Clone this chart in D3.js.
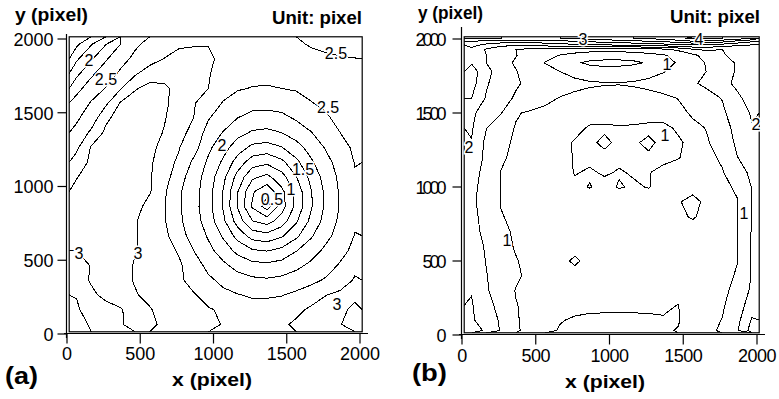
<!DOCTYPE html>
<html>
<head>
<meta charset="utf-8">
<script src="https://cdn.jsdelivr.net/npm/d3@7/dist/d3.min.js"></script>
<style>
  html, body { margin: 0; padding: 0; background: #fff; }
  svg { display: block; }
  text { font-family: "Liberation Sans", Arial, sans-serif; fill: #000; }
</style>
</head>
<body>
<svg id="chart" width="779" height="399"></svg>
<script>
// ---- data -------------------------------------------------------------
// Field samples. Rows run from the top of the image down, columns from left
// to right; positions of the samples are given in pixel units.
const colsA = [65,165,265,365,465,565,665,765,865,965,1065,1165,1265,1365,1465,1565,1665,1765,1865,1965];
const rowsA = [1965,1865,1765,1665,1565,1465,1365,1265,1165,1065,965,865,765,665,565,465,365,265,165,65];

const fieldA = [
  [1.45,1.73,1.99,2.25,2.47,2.55,2.6,2.72,2.73,2.74,2.7,2.67,2.65,2.62,2.6,2.55,2.47,2.42,2.38,2.36],
  [1.71,1.97,2.22,2.44,2.54,2.65,2.76,2.82,2.84,2.8,2.68,2.66,2.65,2.64,2.64,2.62,2.6,2.56,2.53,2.51],
  [1.94,2.2,2.4,2.53,2.72,2.88,2.9,2.88,2.85,2.77,2.63,2.59,2.57,2.57,2.57,2.6,2.63,2.65,2.67,2.69],
  [2.17,2.38,2.51,2.73,2.98,3.08,3.05,2.9,2.82,2.75,2.56,2.52,2.49,2.48,2.5,2.52,2.56,2.6,2.65,2.67],
  [2.35,2.52,2.7,3.02,3.1,3.12,3.05,2.88,2.77,2.6,2.49,2.39,2.34,2.33,2.35,2.41,2.49,2.54,2.6,2.65],
  [2.47,2.6,2.95,3.1,3.15,3.15,3.02,2.83,2.75,2.52,2.36,2.25,2.17,2.16,2.19,2.28,2.36,2.47,2.56,2.62],
  [2.55,2.8,3.05,3.12,3.15,3.12,2.98,2.8,2.7,2.39,2.24,2.08,1.97,1.94,2.0,2.11,2.24,2.36,2.5,2.58],
  [2.7,3.02,3.1,3.15,3.15,3.08,2.9,2.76,2.6,2.3,2.1,1.87,1.69,1.65,1.74,1.91,2.09,2.27,2.42,2.54],
  [2.85,3.05,3.12,3.15,3.15,3.05,2.82,2.72,2.45,2.21,1.96,1.64,1.37,1.3,1.44,1.69,1.96,2.17,2.35,2.51],
  [2.99,3.08,3.12,3.15,3.12,3.02,2.85,2.6,2.37,2.14,1.82,1.41,1.05,0.94,1.15,1.49,1.82,2.1,2.3,2.48],
  [3.05,3.1,3.15,3.15,3.12,3.02,2.78,2.53,2.35,2.1,1.74,1.26,0.78,0.57,0.93,1.35,1.73,2.05,2.28,2.45],
  [3.05,3.1,3.12,3.12,3.1,2.9,2.77,2.53,2.34,2.09,1.73,1.23,0.72,0.38,0.89,1.32,1.72,2.04,2.27,2.45],
  [3.05,3.08,3.1,3.12,3.02,2.88,2.77,2.54,2.37,2.13,1.81,1.39,1.01,0.9,1.12,1.47,1.81,2.09,2.3,2.47],
  [3.03,3.06,3.08,3.1,3.02,2.9,2.82,2.57,2.43,2.22,1.97,1.66,1.4,1.34,1.47,1.7,1.97,2.18,2.35,2.51],
  [3.0,3.04,3.08,3.12,3.01,2.92,2.86,2.72,2.5,2.32,2.14,1.93,1.78,1.74,1.82,1.99,2.14,2.3,2.44,2.55],
  [2.92,3.01,3.06,3.1,2.98,2.88,2.85,2.79,2.6,2.44,2.3,2.17,2.08,2.06,2.1,2.19,2.3,2.42,2.52,2.68],
  [2.9,3.02,3.1,3.08,2.98,2.9,2.86,2.82,2.61,2.54,2.45,2.35,2.3,2.28,2.31,2.37,2.45,2.52,2.59,2.78],
  [2.76,2.96,3.05,3.12,3.02,2.93,2.88,2.84,2.78,2.61,2.55,2.51,2.47,2.47,2.49,2.55,2.6,2.74,2.82,2.95],
  [2.72,2.85,2.93,2.98,3.1,3.02,2.9,2.86,2.82,2.78,2.7,2.62,2.6,2.6,2.6,2.68,2.8,2.88,2.95,3.05],
  [2.65,2.78,2.9,2.98,3.08,3.05,2.95,2.9,2.86,2.8,2.74,2.68,2.66,2.65,2.7,2.8,2.88,2.93,2.99,3.1]
];

const colsB = [65,165,265,365,465,565,665,765,865,965,1065,1165,1265,1365,1465,1565,1665,1765,1865,1965];
const rowsB = [2005,1985,1960,1930,1890,1840,1780,1700,1600,1500,1400,1300,1200,1100,1000,900,800,700,600,500,400,300,200,100,30];

const fieldB = [
  [3.6,3.5,3.5,3.4,3.4,3.4,3.5,3.6,3.7,3.8,3.9,4.0,4.1,4.2,4.4,4.6,4.6,4.5,4.3,4.0],
  [3.0,2.9,2.8,2.8,2.8,2.8,2.9,3.0,3.1,3.2,3.3,3.4,3.5,3.6,3.8,4.0,3.9,3.7,3.4,3.1],
  [2.7,2.35,2.15,2.05,2.1,2.2,2.3,2.4,2.45,2.5,2.55,2.6,2.7,2.8,2.9,3.0,2.95,2.8,2.6,2.5],
  [2.35,1.95,1.7,1.5,1.4,1.35,1.3,1.25,1.2,1.2,1.2,1.25,1.3,1.4,1.6,1.95,2.1,2.0,2.05,2.2],
  [2.45,2.0,1.75,1.52,1.3,1.15,0.98,0.85,0.75,0.7,0.7,0.75,0.85,0.95,1.15,1.4,1.7,1.95,2.15,2.3],
  [2.45,2.0,1.65,1.45,1.25,0.98,0.8,0.55,0.42,0.38,0.38,0.42,0.55,0.8,1.05,1.3,1.55,1.8,2.05,2.3],
  [2.75,2.15,1.75,1.52,1.3,1.15,1.0,0.85,0.72,0.66,0.68,0.75,0.86,0.98,1.12,1.32,1.52,1.78,2.05,2.3],
  [2.7,2.05,1.75,1.55,1.4,1.3,1.2,1.12,1.06,1.03,1.02,1.05,1.1,1.18,1.3,1.45,1.6,1.85,2.1,2.35],
  [2.5,1.95,1.65,1.45,1.25,1.1,0.98,0.9,0.85,0.82,0.82,0.83,0.87,0.92,1.01,1.15,1.35,1.52,1.9,2.2],
  [2.1,1.75,1.52,1.03,0.95,0.9,0.86,0.82,0.78,0.76,0.76,0.78,0.8,0.85,0.9,1.05,1.12,1.42,1.75,2.05],
  [2.05,1.52,1.15,0.98,0.88,0.83,0.8,0.85,1.05,1.08,1.04,1.06,1.1,1.08,0.95,0.92,1.02,1.3,1.65,1.97],
  [1.98,1.38,1.12,0.93,0.85,0.8,0.85,1.05,1.1,0.9,1.1,1.05,0.92,1.1,1.05,0.9,0.98,1.15,1.6,1.9],
  [1.8,1.4,1.05,0.92,0.83,0.78,0.8,1.04,1.1,1.12,1.08,1.05,1.06,1.1,1.02,0.88,0.92,1.05,1.48,1.8],
  [1.65,1.38,0.99,0.9,0.82,0.77,0.76,1.03,0.95,1.05,0.97,1.04,1.02,0.9,0.85,0.82,0.88,0.98,1.2,1.65],
  [1.6,1.35,0.98,0.9,0.81,0.76,0.74,0.9,1.02,0.88,1.03,0.95,1.02,0.85,0.8,0.8,0.85,0.92,1.05,1.52],
  [1.58,1.32,0.98,0.9,0.8,0.75,0.73,0.72,0.74,0.73,0.75,0.74,0.76,0.76,0.95,1.18,0.84,0.9,0.98,1.52],
  [1.62,1.35,1.02,0.92,0.8,0.75,0.72,0.71,0.72,0.72,0.73,0.73,0.74,0.75,0.9,1.05,0.84,0.88,0.97,1.52],
  [1.65,1.38,1.08,0.95,0.82,0.75,0.72,0.7,0.71,0.71,0.72,0.72,0.73,0.74,0.76,0.79,0.83,0.87,0.97,1.53],
  [1.72,1.45,1.12,0.97,0.84,0.76,0.72,0.7,0.7,0.7,0.71,0.71,0.72,0.73,0.75,0.78,0.82,0.87,0.98,1.55],
  [1.78,1.48,1.2,1.02,0.9,0.78,0.73,1.15,0.7,0.7,0.7,0.7,0.71,0.72,0.74,0.77,0.81,0.88,0.99,1.55],
  [1.85,1.52,1.25,1.08,0.88,0.78,0.72,0.69,0.68,0.68,0.68,0.68,0.69,0.7,0.72,0.76,0.8,0.9,1.03,1.53],
  [1.97,1.55,1.25,0.98,0.86,0.76,0.7,0.66,0.64,0.63,0.63,0.63,0.64,0.66,0.69,0.74,0.8,0.92,1.1,1.6],
  [2.05,1.58,1.42,1.02,0.88,0.74,0.66,0.6,0.56,0.55,0.55,0.55,0.56,0.58,0.49,0.72,0.85,0.95,1.25,1.75],
  [2.08,1.7,1.45,1.03,0.9,0.7,0.52,0.46,0.45,0.45,0.45,0.45,0.45,0.46,0.47,0.7,0.9,1.01,1.35,2.05],
  [2.3,1.9,1.45,1.05,0.88,0.6,0.47,0.43,0.42,0.42,0.42,0.42,0.43,0.45,0.52,0.72,0.93,1.05,1.45,2.2]
];

const levelsA = [0.5,0.75,1,1.25,1.5,1.75,2,2.25,2.5,2.75,3,3.25];
const levelsB = [0.5,1,1.5,2,2.5,3,3.5,4,4.5,5];

// inline contour labels: [x, y, text]
const labelsA = [
  [150,1858,"2"],[266,1729,"2.5"],[1836,1905,"2.5"],[1782,1539,"2.5"],
  [1058,1281,"2"],[1611,1119,"1.5"],[1529,983,"1"],[1399,915,"0.5"],
  [82,549,"3"],[485,549,"3"],[1843,203,"3"]
];
const labelsB = [
  [820,2000,"3"],[1607,2000,"4"],[1390,1831,"1"],[1993,1426,"2"],
  [47,1270,"2"],[1376,1351,"1"],[1912,824,"1"],[305,642,"1"]
];

const tickValues = [0,500,1000,1500,2000];
const axisDomain = [0, 2000];
const frameExtent = [15, 2015];

// ---- helpers ----------------------------------------------------------
// Iso-lines of a sampled field. d3.contours closes every ring along the
// grid border; the border runs are removed so that only the lines remain.
function isolines(field, levels) {
  const n = field[0].length, m = field.length, eps = 1e-9;
  const onEdge = p => p[0] <= eps || p[0] >= n - eps || p[1] <= eps || p[1] >= m - eps;
  const out = [];
  d3.contours().size([n, m]).thresholds(levels)(field.flat()).forEach(c => {
    c.coordinates.forEach(poly => poly.forEach(ring => {
      const pts = ring.slice(0, -1), N = pts.length;
      let start = -1;
      for (let i = 0; i < N; i++) {
        if (onEdge(pts[i]) && onEdge(pts[(i + 1) % N])) { start = (i + 1) % N; break; }
      }
      if (start < 0) { out.push({value: c.value, points: ring}); return; }
      let cur = null;
      for (let s = 0; s < N; s++) {
        const a = pts[(start + s) % N], b = pts[(start + s + 1) % N];
        if (onEdge(a) && onEdge(b)) {
          if (cur) out.push({value: c.value, points: cur});
          cur = null;
          continue;
        }
        if (!cur) cur = [a];
        cur.push(b);
      }
      if (cur) out.push({value: c.value, points: cur});
    }));
  });
  return out;
}

// grid index space -> data space, sample k sits at index k + 0.5
function gridScale(samples, edge0, edge1) {
  const dom = [0], rng = [edge0];
  samples.forEach((s, k) => { dom.push(k + 0.5); rng.push(s); });
  dom.push(samples.length); rng.push(edge1);
  return d3.scaleLinear().domain(dom).range(rng);
}

// ---- layout -----------------------------------------------------------
const svg = d3.select("#chart");

const panels = [
  {
    field: fieldA, cols: colsA, rows: rowsA, levels: levelsA, labels: labelsA, tag: "(a)",
    x: d3.scaleLinear().domain(axisDomain).range([67, 360]),
    y: d3.scaleLinear().domain(axisDomain).range([334, 39]),
    yAxisTop: 34, yTickLen: 9, yLabelGap: 4, condensed: false,
    yTitle: {x: 15, y: 21, len: 73}, unit: {x: 272, y: 24, len: 90},
    tagPos: {x: 5, y: 384, len: 33}, xTitle: {x: 212, y: 386, len: 80},
    xLabelY: 360
  },
  {
    field: fieldB, cols: colsB, rows: rowsB, levels: levelsB, labels: labelsB, tag: "(b)",
    x: d3.scaleLinear().domain(axisDomain).range([462, 757]),
    y: d3.scaleLinear().domain(axisDomain).range([335, 39]),
    yAxisTop: 27, yTickLen: 9, yLabelGap: 9, condensed: true,
    yTitle: {x: 418, y: 19, len: 65}, unit: {x: 670, y: 23, len: 90},
    tagPos: {x: 412, y: 381, len: 35}, xTitle: {x: 605, y: 388, len: 80},
    xLabelY: 362
  }
];

panels.forEach((p, idx) => {
  const g = svg.append("g");
  const gx = gridScale(p.cols, frameExtent[0], frameExtent[1]);
  const gy = gridScale(p.rows, frameExtent[1], frameExtent[0]);

  const line = d3.line()
    .x(pt => p.x(gx(pt[0])))
    .y(pt => p.y(gy(pt[1])));

  const fx0 = p.x(frameExtent[0]), fx1 = p.x(frameExtent[1]);
  const fy0 = p.y(frameExtent[1]), fy1 = p.y(frameExtent[0]);

  const clipId = "clip" + idx;
  svg.append("clipPath").attr("id", clipId)
    .append("rect").attr("x", fx0).attr("y", fy0)
    .attr("width", fx1 - fx0).attr("height", fy1 - fy0);

  g.append("g").attr("clip-path", `url(#${clipId})`)
    .selectAll("path").data(isolines(p.field, p.levels)).join("path")
    .attr("d", d => line(d.points))
    .attr("fill", "none")
    .attr("stroke", "#000")
    .attr("stroke-width", 1)
    .attr("shape-rendering", "crispEdges");

  // plot frame
  g.append("rect")
    .attr("x", fx0).attr("y", fy0)
    .attr("width", fx1 - fx0).attr("height", fy1 - fy0)
    .attr("fill", "none").attr("stroke", "#000").attr("stroke-width", 1.2);

  // contour labels with a white halo that breaks the line
  g.append("g").selectAll("text").data(p.labels).join("text")
    .attr("x", d => p.x(d[0])).attr("y", d => p.y(d[1]))
    .attr("text-anchor", "middle").attr("dy", "0.36em")
    .attr("font-size", 16)
    .attr("stroke", "#fff").attr("stroke-width", 3).attr("paint-order", "stroke")
    .text(d => d[2]);

  // y axis
  const yAxisX = p.x(0) - 0.5;
  g.append("line").attr("x1", yAxisX).attr("x2", yAxisX)
    .attr("y1", p.yAxisTop).attr("y2", p.y(0) + 4)
    .attr("stroke", "#000").attr("stroke-width", 1.2);
  const yt = g.append("g").selectAll("g").data(tickValues).join("g");
  yt.append("line")
    .attr("x1", yAxisX - p.yTickLen).attr("x2", yAxisX)
    .attr("y1", d => p.y(d)).attr("y2", d => p.y(d))
    .attr("stroke", "#000").attr("stroke-width", 1.2);
  yt.append("text")
    .attr("x", yAxisX - p.yTickLen - p.yLabelGap)
    .attr("y", d => p.y(d)).attr("dy", "0.38em")
    .attr("text-anchor", "end").attr("font-size", 18)
    .attr("letter-spacing", p.condensed ? -3 : 0)
    .text(d => d);

  // x axis
  const xAxisY = p.y(0) - 0.5;
  g.append("line").attr("x1", p.x(0) - 3).attr("x2", p.x(2000) + 8)
    .attr("y1", xAxisY).attr("y2", xAxisY)
    .attr("stroke", "#000").attr("stroke-width", 1.2);
  const xt = g.append("g").selectAll("g").data(tickValues).join("g");
  xt.append("line")
    .attr("x1", d => p.x(d)).attr("x2", d => p.x(d))
    .attr("y1", xAxisY).attr("y2", xAxisY + 10)
    .attr("stroke", "#000").attr("stroke-width", 1.2);
  xt.append("text")
    .attr("x", d => p.x(d)).attr("y", p.xLabelY)
    .attr("text-anchor", "middle").attr("font-size", 18)
    .attr("letter-spacing", p.condensed ? -0.5 : 0)
    .text(d => d);

  // titles
  const bold = (o, txt, size, anchor) => g.append("text")
    .attr("x", o.x).attr("y", o.y)
    .attr("font-size", size).attr("font-weight", "bold")
    .attr("text-anchor", anchor || "start")
    .attr("textLength", o.len).attr("lengthAdjust", "spacingAndGlyphs")
    .text(txt);
  bold(p.yTitle, "y (pixel)", 19);
  bold(p.unit, "Unit: pixel", 18);
  bold(p.tagPos, p.tag, 24);
  bold(p.xTitle, "x (pixel)", 19, "middle");
});
</script>
</body>
</html>
